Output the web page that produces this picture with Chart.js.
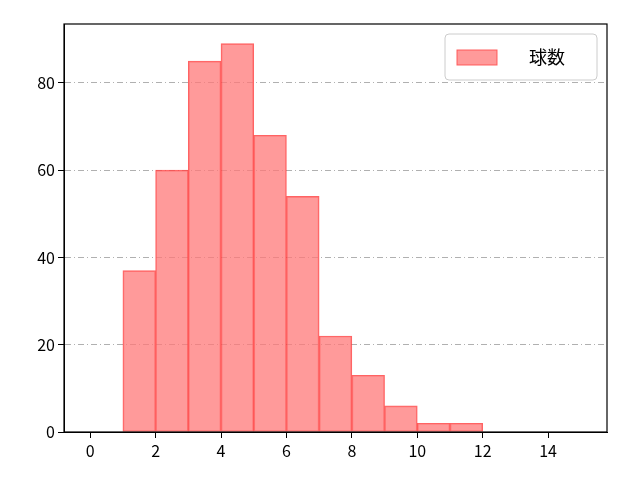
<!DOCTYPE html>
<html><head><meta charset="utf-8">
<script src="https://cdn.jsdelivr.net/npm/chart.js@4"></script>
<style>body{margin:0;background:#fff}</style></head>
<body><canvas id="c" width="640" height="480"></canvas>
<script>
const binCenters = [1.5, 2.5, 3.5, 4.5, 5.5, 6.5, 7.5, 8.5, 9.5, 10.5, 11.5];
const counts = [37, 60, 85, 89, 68, 54, 22, 13, 6, 2, 2];
const xTicks = [0, 2, 4, 6, 8, 10, 12, 14];
const yTicks = [0, 20, 40, 60, 80];
const seriesLabel = '球数';
const font = {family: "'Noto Sans CJK JP', 'DejaVu Sans', sans-serif", size: 16};

const frame = {
  id: 'frame',
  afterDraw(chart) {
    const a = chart.chartArea, c = chart.ctx;
    c.save();
    c.strokeStyle = '#000'; c.lineWidth = 1.2; c.setLineDash([]);
    c.strokeRect(a.left, a.top, a.right - a.left, a.bottom - a.top);
    // legend
    const w = 152, h = 46, x = a.right - w - 10, y = a.top + 10;
    c.fillStyle = 'rgba(255,255,255,0.8)';
    c.strokeStyle = '#ccc'; c.lineWidth = 1;
    c.beginPath(); c.roundRect(x, y, w, h, 4); c.fill(); c.stroke();
    c.fillStyle = 'rgba(255,120,120,0.75)';
    c.strokeStyle = 'rgba(255,80,80,0.9)';
    c.fillRect(x + 12, y + 16, 40, 15); c.strokeRect(x + 12, y + 16, 40, 15);
    c.fillStyle = '#000'; c.font = "18px 'Noto Sans CJK JP'"; c.textBaseline = 'middle';
    c.fillText(chart.data.datasets[0].label, x + 84, y + 23);
    c.restore();
  }
};

new Chart(document.getElementById('c'), {
  type: 'bar',
  data: {
    datasets: [{
      label: seriesLabel,
      data: binCenters.map((x, i) => ({x: x, y: counts[i]})),
      backgroundColor: 'rgba(255,120,120,0.75)',
      borderColor: 'rgba(255,60,60,0.8)',
      borderWidth: 1,
      barPercentage: 1,
      categoryPercentage: 1,
      borderSkipped: false
    }]
  },
  options: {
    responsive: false,
    animation: false,
    layout: {padding: {top: 24, right: 33}},
    plugins: {legend: {display: false}, tooltip: {enabled: false}},
    scales: {
      x: {
        type: 'linear', min: -0.8, max: 15.8, offset: false,
        afterFit(s) { s.height = 48; },
        afterBuildTicks(s) { s.ticks = xTicks.map(v => ({value: v})); },
        ticks: {color: '#000', font: font, callback: v => v},
        grid: {drawOnChartArea: false, color: '#000', tickLength: 6, offset: false},
        border: {color: '#000'}
      },
      y: {
        min: 0, max: 93.5,
        afterFit(s) { s.width = 64; },
        afterBuildTicks(s) { s.ticks = yTicks.map(v => ({value: v})); },
        ticks: {color: '#000', font: font, callback: v => v},
        grid: {color: '#b0b0b0', tickLength: 6, tickColor: '#000', tickBorderDash: [0, 0]},
        border: {color: '#000', dash: [6, 3, 1, 3]}
      }
    }
  },
  plugins: [frame]
});
</script></body></html>
